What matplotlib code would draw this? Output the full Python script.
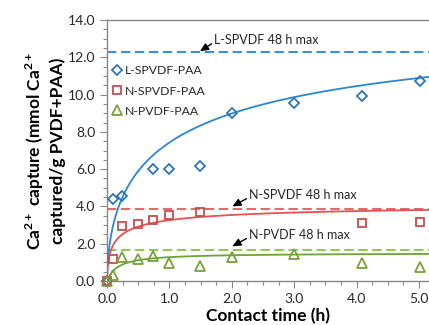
import numpy as np
import matplotlib
matplotlib.use("Agg")
import matplotlib.pyplot as plt
from matplotlib.ticker import MultipleLocator, FormatStrFormatter

plt.rcParams['font.family'] = ['Lato', 'DejaVu Sans']
plt.rcParams['mathtext.fontset'] = 'custom'
plt.rcParams['mathtext.rm'] = 'Lato'
plt.rcParams['mathtext.bf'] = 'Lato:bold'

# ---- data ----
time_L = [0.0, 0.09, 0.245, 0.74, 1.0, 1.49, 2.0, 3.0, 4.08, 5.02]
cap_L = [0.0, 4.38, 4.56, 5.99, 6.0, 6.17, 9.0, 9.53, 9.94, 10.73]

time_NS = [0.0, 0.09, 0.245, 0.5, 0.74, 1.0, 1.49, 4.08, 5.02]
cap_NS = [0.0, 1.2, 2.95, 3.04, 3.27, 3.54, 3.68, 3.09, 3.17]

time_NP = [0.0, 0.09, 0.245, 0.5, 0.74, 1.0, 1.49, 2.0, 3.0, 4.08, 5.02]
cap_NP = [0.0, 0.32, 1.3, 1.18, 1.36, 0.98, 0.8, 1.27, 1.43, 0.98, 0.77]

max48_L = 12.27
max48_NS = 3.86
max48_NP = 1.66

# fitted kinetic curve parameters (q = Q t^n / (K + t^n)), read from the drawn fits
fit_L = dict(Q=15.6, K=1.10, n=0.58)
fit_NS = dict(Q=4.24, K=0.299, n=0.6)
fit_NP = dict(Q=1.5, K=0.173, n=1.0)

series_names = ['L-SPVDF-PAA', 'N-SPVDF-PAA', 'N-PVDF-PAA']
annot_texts = ['L-SPVDF 48 h max', 'N-SPVDF 48 h max', 'N-PVDF 48 h max']

# ---- figure ----
W, H = 429, 325
fig = plt.figure(figsize=(W / 100, H / 100), dpi=100)
ax = fig.add_axes([107 / W, 44 / H, (W - 107) / W, 261 / H])

XMAX = (W - 107) / 62.4
ax.set_xlim(0, XMAX)
ax.set_ylim(0, 14)

def hill(t, Q, K, n):
    tn = np.power(t, n)
    return Q * tn / (K + tn)

tt = np.linspace(0, XMAX, 600)

c_blue_m, c_blue_l, c_blue_d = '#2E75B6', '#2A86D1', '#3A90DA'
c_red_m, c_red_l, c_red_d = '#C0504D', '#E5524F', '#E46A6A'
c_grn_m, c_grn_l, c_grn_d = '#77A03A', '#6AA536', '#93C852'

dash = (4.5, 2.2)
ax.axhline(max48_L, color=c_blue_d, lw=1.5, dashes=dash, zorder=2)
ax.axhline(max48_NS, color=c_red_d, lw=1.5, dashes=dash, zorder=2)
ax.axhline(max48_NP, color=c_grn_d, lw=1.5, dashes=dash, zorder=2)

ax.plot(tt, hill(tt, **fit_L), color=c_blue_l, lw=1.3, zorder=3)
ax.plot(tt, hill(tt, **fit_NS), color=c_red_l, lw=1.3, zorder=3)
ax.plot(tt, hill(tt, **fit_NP), color=c_grn_l, lw=1.3, zorder=3)

ax.plot(time_L, cap_L, ls='none', marker='D', ms=5.2, mfc='none', mec=c_blue_m, mew=1.3,
        label=series_names[0], zorder=4, clip_on=False)
ax.plot(time_NS, cap_NS, ls='none', marker='s', ms=6.2, mfc='none', mec=c_red_m, mew=1.3,
        label=series_names[1], zorder=4, clip_on=False)
ax.plot(time_NP, cap_NP, ls='none', marker='^', ms=6.8, mfc='none', mec=c_grn_m, mew=1.3,
        label=series_names[2], zorder=4, clip_on=False)

leg = ax.legend(loc='upper left', bbox_to_anchor=(0.0, 0.845), frameon=False, fontsize=8.8,
                handlelength=0.8, handletextpad=0.25, labelspacing=0.75, borderaxespad=0)
for t in leg.get_texts():
    t.set_color('#262626')

# annotations
ann_cfg = [
    (annot_texts[0], (1.49, max48_L + 0.05), (1.72, 12.95)),
    (annot_texts[1], (2.01, 4.0), (2.28, 4.63)),
    (annot_texts[2], (2.01, 1.86), (2.28, 2.49)),
]
for txt, xy, xyt in ann_cfg:
    ax.annotate(txt, xy=xy, xytext=xyt, ha='left', va='center', fontsize=9, color='#262626',
                arrowprops=dict(arrowstyle='-|>,head_length=0.55,head_width=0.25', color='black',
                                lw=1.0, shrinkA=0, shrinkB=0, relpos=(0.0, 0.3)))

# axes styling
for s in ['left', 'bottom', 'top']:
    ax.spines[s].set_color('#888888')
    ax.spines[s].set_linewidth(1.0)
ax.spines['right'].set_visible(False)

ax.xaxis.set_major_locator(MultipleLocator(1.0))
ax.xaxis.set_minor_locator(MultipleLocator(0.25))
ax.yaxis.set_major_locator(MultipleLocator(2.0))
ax.yaxis.set_minor_locator(MultipleLocator(0.5))
ax.xaxis.set_major_formatter(FormatStrFormatter('%.1f'))
ax.yaxis.set_major_formatter(FormatStrFormatter('%.1f'))
ax.tick_params(which='major', direction='out', length=5, width=0.8, color='#888888',
               labelsize=10, labelcolor='#262626')
ax.tick_params(which='minor', direction='out', length=3, width=0.8, color='#888888')
ax.tick_params(axis='x', which='both', top=False)

ax.set_xlabel('Contact time (h)', fontsize=12.5, fontweight='bold', labelpad=2)
ax.set_ylabel('Ca$^{\\mathbf{2+}}$ capture (mmol Ca$^{\\mathbf{2+}}$\ncaptured/g PVDF+PAA)',
              fontsize=12.5, fontweight='bold', linespacing=1.3, labelpad=1)

fig.savefig('out.png', dpi=100)
